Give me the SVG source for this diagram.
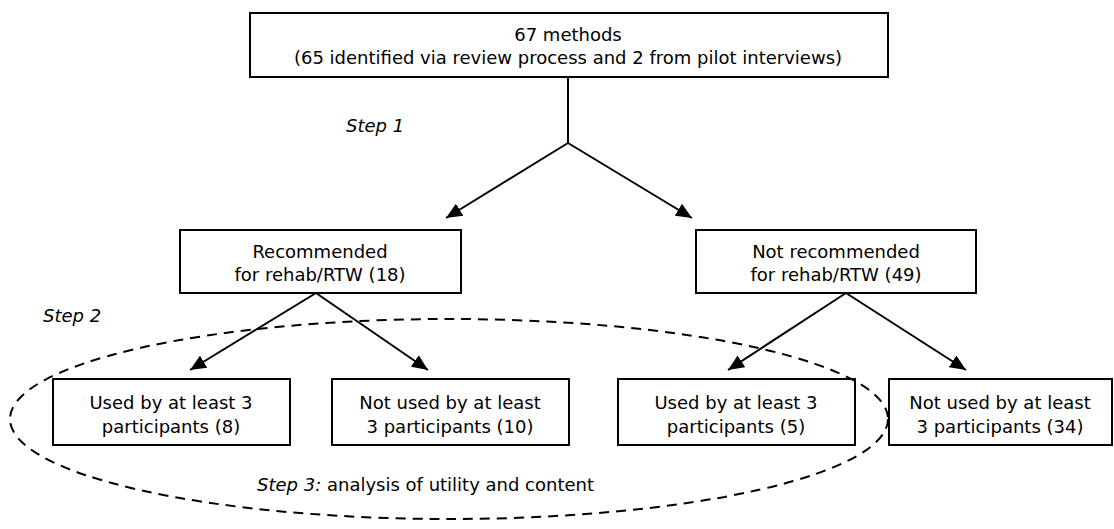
<svg xmlns="http://www.w3.org/2000/svg" width="1114" height="529" viewBox="0 0 1114 529">
<defs>
<marker id="ah" viewBox="0 0 16 14" refX="16" refY="7" markerWidth="16" markerHeight="14" markerUnits="userSpaceOnUse" orient="auto">
<path d="M0,0 L16,7 L0,14 z" fill="#000"/>
</marker>
<style>
.box{fill:#fff;stroke:#000;stroke-width:2}
.t{font-family:"DejaVu Sans",Verdana,sans-serif;font-size:18px;fill:#000;text-anchor:middle}
.s{font-family:"DejaVu Sans",Verdana,sans-serif;font-size:18px;fill:#000;font-style:italic}
.c{stroke:#000;stroke-width:2;fill:none}
.a{stroke:#000;stroke-width:2;fill:none;marker-end:url(#ah)}
</style>
</defs>
<rect width="1114" height="529" fill="#fff"/>
<g id="connectors">
<line class="c" x1="568" y1="77" x2="568" y2="143"/>
<line class="a" x1="568" y1="143" x2="446" y2="218"/>
<line class="a" x1="568" y1="143" x2="692" y2="218"/>
<line class="a" x1="316" y1="293" x2="190" y2="370"/>
<line class="a" x1="316" y1="293" x2="428" y2="370"/>
<line class="a" x1="846" y1="293" x2="728" y2="370"/>
<line class="a" x1="846" y1="293" x2="966" y2="370"/>
</g>
<g id="n-top">
<rect class="box" x="250" y="13" width="638" height="64"/>
<text class="t" x="568" y="41">67 methods</text>
<text class="t" x="568" y="64">(65 identified via review process and 2 from pilot interviews)</text>
</g>
<g id="n-rec">
<rect class="box" x="180" y="230" width="281" height="63"/>
<text class="t" x="320" y="258">Recommended</text>
<text class="t" x="320" y="281">for rehab/RTW (18)</text>
</g>
<g id="n-notrec">
<rect class="box" x="696" y="230" width="280" height="63"/>
<text class="t" x="836" y="258">Not recommended</text>
<text class="t" x="836" y="281">for rehab/RTW (49)</text>
</g>
<g id="n-b1">
<rect class="box" x="53" y="379" width="237" height="66"/>
<text class="t" x="171" y="409">Used by at least 3</text>
<text class="t" x="171" y="433">participants (8)</text>
</g>
<g id="n-b2">
<rect class="box" x="332" y="379" width="237" height="66"/>
<text class="t" x="450" y="409">Not used by at least</text>
<text class="t" x="450" y="433">3 participants (10)</text>
</g>
<g id="n-b3">
<rect class="box" x="618" y="379" width="237" height="66"/>
<text class="t" x="736" y="409">Used by at least 3</text>
<text class="t" x="736" y="433">participants (5)</text>
</g>
<g id="n-b4">
<rect class="box" x="889" y="379" width="223" height="66"/>
<text class="t" x="1000" y="409">Not used by at least</text>
<text class="t" x="1000" y="433">3 participants (34)</text>
</g>
<g id="step3-region">
<ellipse cx="449" cy="419" rx="439" ry="100" fill="none" stroke="#000" stroke-width="2" stroke-dasharray="10 7"/>
</g>
<g id="labels">
<text class="s" x="346" y="132">Step 1</text>
<text class="s" x="43" y="322">Step 2</text>
<text x="257" y="491" font-family="DejaVu Sans,Verdana,sans-serif" font-size="18"><tspan font-style="italic">Step 3:</tspan> analysis of utility and content</text>
</g>
</svg>
